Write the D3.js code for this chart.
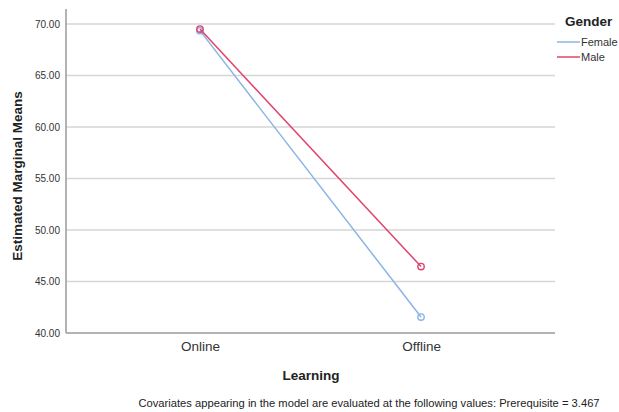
<!DOCTYPE html>
<html>
<head>
<meta charset="utf-8">
<script src="https://cdn.jsdelivr.net/npm/d3@7"></script>
<style>
  html, body { margin: 0; padding: 0; background: #fff; }
  svg { display: block; font-family: Arial, "Liberation Sans", sans-serif; }
</style>
</head>
<body>
<svg id="chart" width="619" height="412"></svg>
<script>
// Estimated marginal means of the outcome by learning mode and gender
const categories = ["Online", "Offline"];
const seriesNames = ["Female", "Male"];
const femaleValues = [69.35, 41.55];
const maleValues = [69.5, 46.45];
const yTicks = [40, 45, 50, 55, 60, 65, 70];
const footnote = "Covariates appearing in the model are evaluated at the following values: Prerequisite = 3.467";

const colors = { Female: "#8ab4e6", Male: "#e0446c" };
const series = [
  { name: "Female", values: femaleValues },
  { name: "Male", values: maleValues }
];

const svg = d3.select("#chart");
const plot = { left: 66, right: 555, top: 9, bottom: 333 };

const x = d3.scalePoint().domain(categories)
  .range([plot.left, plot.right]).padding(0.606);
const y = d3.scaleLinear().domain([40, 71.45])
  .range([plot.bottom, plot.top]);

// horizontal grid lines
svg.append("g").selectAll("line").data(yTicks.filter(t => t > 40)).join("line")
  .attr("x1", plot.left).attr("x2", plot.right)
  .attr("y1", d => y(d)).attr("y2", d => y(d))
  .attr("stroke", "#d6d6d6").attr("stroke-width", 1.5);

// y axis
const yAxis = svg.append("g").attr("transform", `translate(${plot.left},0)`)
  .call(d3.axisLeft(y).tickValues(yTicks).tickFormat(d3.format(".2f")).tickSize(0).tickPadding(6));
yAxis.select(".domain").remove();
yAxis.selectAll("text").attr("fill", "#333").attr("font-size", 10);
svg.append("line").attr("x1", plot.left).attr("x2", plot.left)
  .attr("y1", plot.top).attr("y2", plot.bottom)
  .attr("stroke", "#9a9a9a").attr("stroke-width", 1.5);

// x axis
const xAxis = svg.append("g").attr("transform", `translate(0,${plot.bottom})`)
  .call(d3.axisBottom(x).tickSize(0).tickPadding(8));
xAxis.select(".domain").remove();
xAxis.selectAll("text").attr("fill", "#333").attr("font-size", 13.5);
svg.append("line").attr("x1", plot.left).attr("x2", plot.right)
  .attr("y1", plot.bottom).attr("y2", plot.bottom)
  .attr("stroke", "#9a9a9a").attr("stroke-width", 1.5);

// series lines and markers
const line = d3.line().x((d, i) => x(categories[i])).y(d => y(d));
const g = svg.append("g");
series.forEach(s => {
  g.append("path").datum(s.values).attr("d", line)
    .attr("fill", "none").attr("stroke", colors[s.name]).attr("stroke-width", 1.5);
  g.selectAll(null).data(s.values).join("circle")
    .attr("cx", (d, i) => x(categories[i])).attr("cy", d => y(d)).attr("r", 3.2)
    .attr("fill", "none").attr("stroke", colors[s.name]).attr("stroke-width", 1.4);
});

// axis titles
svg.append("text").attr("x", 311).attr("y", 380).attr("text-anchor", "middle")
  .attr("font-size", 13.5).attr("font-weight", "bold").attr("fill", "#222").text("Learning");
svg.append("text").attr("transform", "translate(22,176) rotate(-90)").attr("text-anchor", "middle")
  .attr("font-size", 13.5).attr("font-weight", "bold").attr("fill", "#222").text("Estimated Marginal Means");

// footnote
svg.append("text").attr("x", 369).attr("y", 407).attr("text-anchor", "middle")
  .attr("font-size", 11.2).attr("fill", "#222").text(footnote);

// legend
const lg = svg.append("g");
lg.append("text").attr("x", 565).attr("y", 26).attr("font-size", 13.5)
  .attr("font-weight", "bold").attr("fill", "#222").text("Gender");
seriesNames.forEach((n, i) => {
  const yy = 42 + i * 15;
  lg.append("line").attr("x1", 557).attr("x2", 580).attr("y1", yy).attr("y2", yy)
    .attr("stroke", colors[n]).attr("stroke-width", 1.5);
  lg.append("text").attr("x", 581).attr("y", yy + 4).attr("font-size", 11)
    .attr("fill", "#333").text(n);
});
</script>
</body>
</html>
